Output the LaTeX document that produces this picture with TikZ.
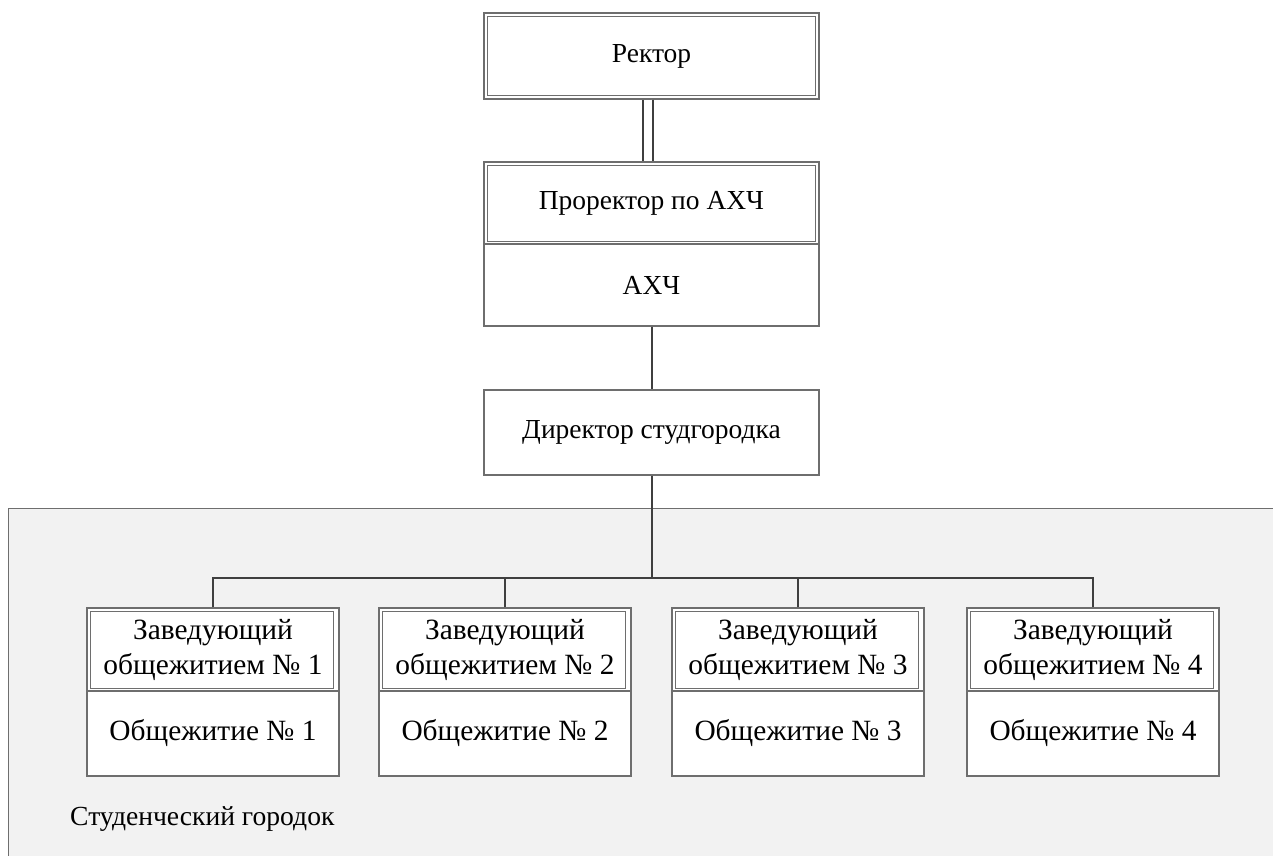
\documentclass[tikz,border=0pt]{standalone}
\usepackage{fontspec}
\setmainfont{Liberation Serif}
\definecolor{bordc}{HTML}{6E6E6E}
\definecolor{linec}{HTML}{3F3F3F}
\definecolor{regfill}{HTML}{F2F2F2}
\begin{document}
\begin{tikzpicture}[x=1pt,y=-1pt,
  box/.style={draw=bordc, line width=1.1pt, fill=white, inner sep=0pt, align=center,
    font=\fontsize{27.5}{32}\selectfont},
  wide/.style={minimum width=335, minimum height=82},
  small/.style={minimum width=252, font=\fontsize{29.4}{35}\selectfont},
  inner/.style={draw=bordc, line width=1.1pt},
  conn/.style={draw=linec, line width=2pt}]
\useasboundingbox (0,0) rectangle (1273,855);
\fill[white] (0,0) rectangle (1273,855);
% region
\node[draw=bordc, line width=1.1pt, fill=regfill, anchor=north west, inner sep=0pt,
  minimum width=1300, minimum height=380] (region) at (8,508) {};
\node[anchor=base west, inner sep=0pt, font=\fontsize{27.6}{32}\selectfont] (regionlabel) at (70,825) {Студенческий городок};
% top
\node[box, wide, minimum height=86] (rector) at (651.5,56) {Ректор};
\draw[inner] ([shift={(4,4)}]rector.north west) rectangle ([shift={(-4,-4)}]rector.south east);
\node[box, wide] (pro) at (651.5,203) {Проректор по АХЧ};
\draw[inner] ([shift={(4,4)}]pro.north west) rectangle ([shift={(-4,-3)}]pro.south east);
\node[box, wide] (ahx) at (651.5,285) {АХЧ};
\node[box, wide, minimum height=85] (dir) at (651.5,432.5) {Директор студгородка};
% bottom
\foreach \i/\cx in {1/213,2/505,3/798,4/1093}{
  \node[box, small, minimum height=83] (zav\i) at (\cx,649.5) {Заведующий\\общежитием № \i};
  \draw[inner] ([shift={(4,4)}]zav\i.north west) rectangle ([shift={(-6,-3)}]zav\i.south east);
  \node[box, small, minimum height=85] (obs\i) at (\cx,733.5) {Общежитие № \i};
}
% connectors
\draw[draw=linec, line width=2pt, double=white, double distance=8pt]
  ([xshift=-3.5pt]rector.south) -- ([xshift=-3.5pt]pro.north);
\draw[conn] (ahx.south) -- (dir.north);
\coordinate (bus) at (651.5,578);
\draw[conn] (dir.south) -- (bus);
\draw[conn] (zav1.north) |- (bus) -| (zav4.north);
\draw[conn] (zav2.north) -- (zav2.north |- bus);
\draw[conn] (zav3.north) -- (zav3.north |- bus);
\end{tikzpicture}
\end{document}
